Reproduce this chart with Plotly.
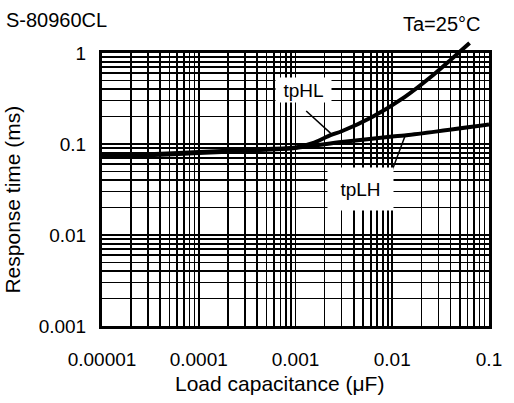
import plotly.graph_objects as go

# ---- data ----
tplh_x = [1e-5, 3e-5, 1e-4, 3e-4, 1e-3, 3e-3, 0.01, 0.0134, 0.1]
tplh_y = [0.0725, 0.075, 0.0795, 0.0845, 0.0905, 0.105, 0.121, 0.124, 0.164]

tphl_x = [1e-5, 3e-5, 1e-4, 3e-4, 1e-3, 1.5e-3, 2.3e-3, 3e-3, 6.2e-3, 0.0134, 0.025, 0.04, 0.063]
tphl_y = [0.0745, 0.077, 0.0815, 0.0865, 0.0915, 0.102, 0.125, 0.138, 0.198, 0.328, 0.545, 0.84, 1.29]

# leader lines for the curve labels (label end, curve end)
tphl_leader_x = [0.00129, 0.0023]
tphl_leader_y = [0.2306, 0.1318]
tplh_leader_x = [0.00822, 0.01368]
tplh_leader_y = [0.0297, 0.1256]

x_major = [1e-5, 1e-4, 1e-3, 1e-2, 1e-1]
x_labels = ["0.00001", "0.0001", "0.001", "0.01", "0.1"]
y_major = [0.001, 0.01, 0.1, 1]
y_labels = ["0.001", "0.01", "0.1", "1"]

FONT = "Arial, Liberation Sans, sans-serif"


def log_grid(majors, labels):
    vals, texts = [], []
    for i, m in enumerate(majors):
        vals.append(m)
        texts.append(labels[i])
        if i < len(majors) - 1:
            for k in range(2, 10):
                vals.append(m * k)
                texts.append("")
    return vals, texts


xv, xt = log_grid(x_major, x_labels)
yv, yt = log_grid(y_major, y_labels)

fig = go.Figure()
# invisible trace so the gridded main axes get drawn
fig.add_trace(go.Scatter(x=x_major[:4], y=y_major, mode="markers",
                         marker=dict(opacity=0), xaxis="x", yaxis="y", hoverinfo="skip"))
line_style = dict(color="black", width=4, shape="spline", smoothing=0.8)
fig.add_trace(go.Scatter(x=tplh_x, y=tplh_y, mode="lines", line=line_style,
                         xaxis="x2", yaxis="y2", name="tpLH", hoverinfo="skip"))
fig.add_trace(go.Scatter(x=tphl_x, y=tphl_y, mode="lines", line=line_style,
                         xaxis="x2", yaxis="y2", name="tpHL", hoverinfo="skip"))
fig.add_trace(go.Scatter(x=tphl_leader_x, y=tphl_leader_y, mode="lines",
                         line=dict(color="black", width=1.5),
                         xaxis="x2", yaxis="y2", hoverinfo="skip"))
fig.add_trace(go.Scatter(x=tplh_leader_x, y=tplh_leader_y, mode="lines",
                         line=dict(color="black", width=1.5),
                         xaxis="x2", yaxis="y2", hoverinfo="skip"))

W, H = 514, 403
L, R, T, B = 102, 14, 40, 77
plot_h = H - T - B  # 286
main_top = 53
ydom_top = (H - B - main_top) / plot_h
px_per_dec = (H - B - main_top) / 3.0
y2_top = -3 + plot_h / px_per_dec


def px_to_paper(px, py):
    return (px - L) / (W - L - R), (H - B - py) / plot_h


annotations = []
# curve labels with white boxes
for txt, cx, cy, bw, bh in [("tpHL", 309.5, 90, 55, 24), ("tpLH", 367.5, 189, 65, 42)]:
    ax_, ay_ = px_to_paper(cx, cy)
    annotations.append(dict(text=txt, x=ax_, y=ay_, xref="paper", yref="paper",
                            xanchor="center", yanchor="middle",
                            showarrow=False, bgcolor="white", width=bw, height=bh,
                            borderpad=0, font=dict(family=FONT, size=19, color="black")))

ax_, ay_ = px_to_paper(1, 20)
annotations.append(dict(text="S-80960CL", x=ax_, y=ay_, xref="paper", yref="paper",
                        xanchor="left", yanchor="middle", showarrow=False,
                        font=dict(family=FONT, size=20, color="black")))
ax_, ay_ = px_to_paper(452, 24)
annotations.append(dict(text="Ta=25°C", x=ax_, y=ay_, xref="paper", yref="paper",
                        xanchor="center", yanchor="middle", showarrow=False,
                        font=dict(family=FONT, size=20, color="black")))
ax_, ay_ = px_to_paper(284.5, 383)
annotations.append(dict(text="Load capacitance (μF)", x=ax_, y=ay_, xref="paper", yref="paper",
                        xanchor="center", yanchor="middle", showarrow=False,
                        font=dict(family=FONT, size=21, color="black")))
ax_, ay_ = px_to_paper(10, 200)
annotations.append(dict(text="Response time (ms)", x=ax_, y=ay_, xref="paper", yref="paper",
                        xanchor="center", yanchor="middle", showarrow=False, textangle=-90,
                        font=dict(family=FONT, size=21, color="black")))

fig.update_layout(
    width=W, height=H,
    margin=dict(l=L, r=R, t=T, b=B),
    paper_bgcolor="white",
    plot_bgcolor="rgba(0,0,0,0)",
    showlegend=False,
    font=dict(family=FONT, size=19, color="black"),
    xaxis=dict(type="log", range=[-5, -1], domain=[0, 1], anchor="y",
               tickmode="array", tickvals=xv, ticktext=xt, ticks="",
               showgrid=True, gridcolor="black", gridwidth=1.6,
               showline=True, linecolor="black", linewidth=3, mirror=True,
               zeroline=False, ticklabelstandoff=14,
               tickfont=dict(family=FONT, size=19, color="black")),
    yaxis=dict(type="log", range=[-3, 0], domain=[0, ydom_top], anchor="x",
               tickmode="array", tickvals=yv, ticktext=yt, ticks="",
               showgrid=True, gridcolor="black", gridwidth=1.6,
               showline=True, linecolor="black", linewidth=3, mirror=True,
               zeroline=False, ticklabelstandoff=9,
               tickfont=dict(family=FONT, size=19, color="black")),
    xaxis2=dict(type="log", range=[-5, -1], domain=[0, 1], anchor="y2",
                visible=False, showgrid=False),
    yaxis2=dict(type="log", range=[-3, y2_top], domain=[0, 1], anchor="x2",
                visible=False, showgrid=False),
    annotations=annotations,
)

fig.write_html("out.html", config={"displayModeBar": False, "staticPlot": True},
               post_script="document.body.style.margin='0';document.body.style.overflow='hidden';")
